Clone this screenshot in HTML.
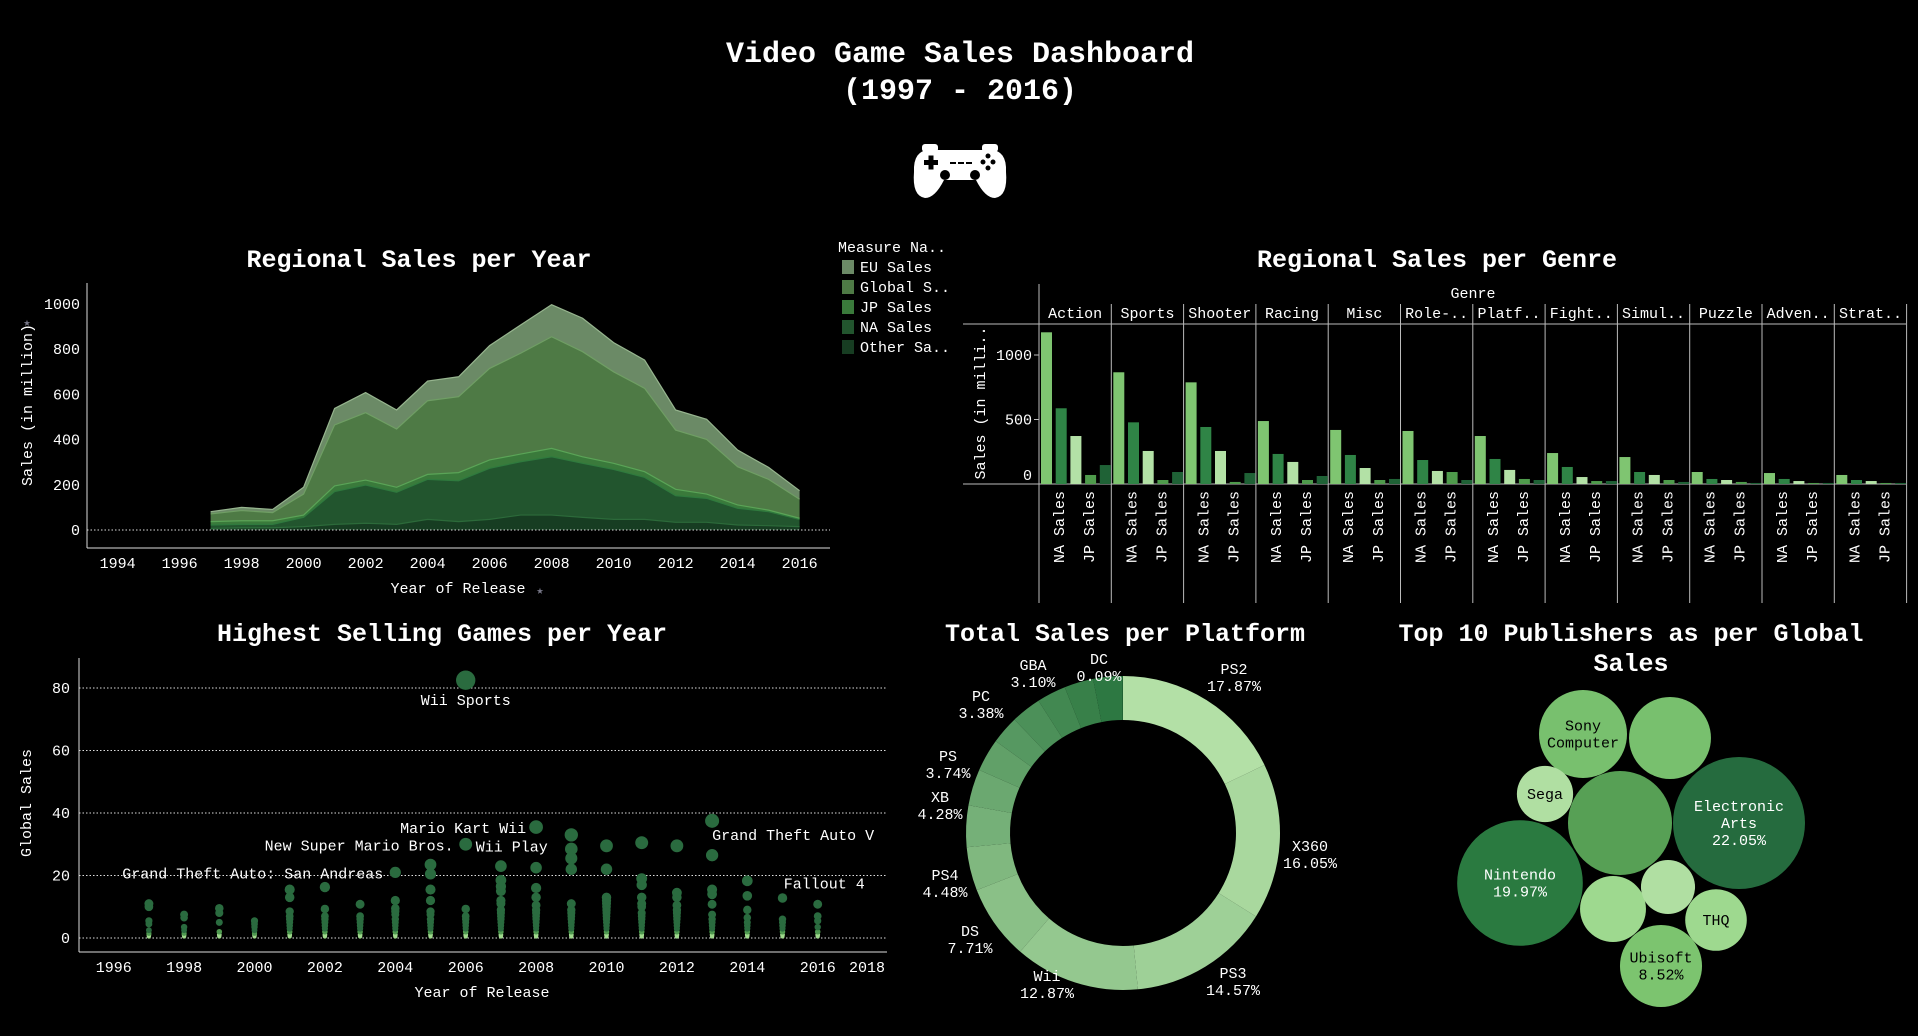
<!DOCTYPE html>
<html><head><meta charset="utf-8"><title>Video Game Sales Dashboard</title>
<style>
html,body{margin:0;padding:0;background:#000;width:1918px;height:1036px;overflow:hidden}
svg{display:block}
text{font-family:"Liberation Mono","DejaVu Sans Mono",monospace;fill:#fff}
.ttl{font-weight:bold}
</style></head><body>
<svg id="root" width="1918" height="1036" viewBox="0 0 1918 1036" xmlns="http://www.w3.org/2000/svg">
<g>
<text class="ttl" x="960" y="62" font-size="30" text-anchor="middle">Video Game Sales Dashboard</text>
<text class="ttl" x="960" y="99" font-size="30" text-anchor="middle">(1997 - 2016)</text>
</g>
<g fill="#fff">
<rect x="922" y="144" width="16" height="8" rx="3"/><rect x="982" y="144" width="16" height="8" rx="3"/>
<path d="M930 150 Q913 150 914 172 Q912 196 925 198 Q935 198 944 180 L976 180 Q985 198 995 198 Q1008 196 1006 172 Q1007 150 990 150 Z"/>
<g fill="#000"><rect x="924" y="160" width="14" height="5"/><rect x="928.5" y="155.5" width="5" height="14"/>
<circle cx="945" cy="175" r="5"/><circle cx="975" cy="175" r="5"/>
<circle cx="988" cy="156" r="2.5"/><circle cx="983" cy="162" r="2.5"/><circle cx="993" cy="162" r="2.5"/><circle cx="988" cy="168" r="2.5"/>
<rect x="950" y="162" width="6" height="2"/><rect x="958" y="162" width="6" height="2"/><rect x="966" y="162" width="6" height="2"/></g>
</g>
<g id="area"></g>
<g id="bars"></g>
<g id="scatter"></g>
<g id="donut"></g>
<g id="bubbles"></g>
</svg>
<script>
// ---------- Area chart data ----------
const areaYears=[1997,1998,1999,2000,2001,2002,2003,2004,2005,2006,2007,2008,2009,2010,2011,2012,2013,2014,2015,2016];
const otherSales=[7,10,10,15,25,30,25,47,37,47,66,66,56,47,47,34,34,22,19,15];
const naSales=[15,15,15,41,145,169,142,177,181,226,236,258,239,221,186,118,106,74,62,32];
const jpSales=[15,16,16,10,25,22,22,22,36,37,34,37,29,27,25,28,19,15,7,5];
const globalSales=[34,45,36,93,270,298,258,326,336,405,446,494,465,405,369,262,242,169,136,84];
const euSales=[10,14,14,30,73,89,84,87,88,101,125,142,148,129,125,89,89,74,53,38];
const areaYTicks=[0,200,400,600,800,1000];
const areaXTicks=[1994,1996,1998,2000,2002,2004,2006,2008,2010,2012,2014,2016];
const legendLabels=["EU Sales","Global S..","JP Sales","NA Sales","Other Sa.."];

// ---------- Bar chart data ----------
const genres=["Action","Sports","Shooter","Racing","Misc","Role-..","Platf..","Fight..","Simul..","Puzzle","Adven..","Strat.."];
const barSeries1=[1176,866,788,488,419,411,372,240,209,93,85,70];
const barSeries2=[587,478,442,233,225,186,194,132,93,39,39,31];
const barSeries3=[372,256,256,171,124,101,109,54,70,31,23,23];
const barSeries4=[70,31,16,31,31,93,39,23,31,16,8,8];
const barSeries5=[147,93,85,62,39,31,31,23,16,8,8,8];
const barYTicks=[0,500,1000];

// ---------- Scatter data ----------
const scatterYears=[1997,1998,1999,2000,2001,2002,2003,2004,2005,2006,2007,2008,2009,2010,2011,2012,2013,2014,2015,2016];
const scatterSales=[
[11,10,5.5,4.5,2.5,1.5,1,0.5],
[7.5,6.5,3.5,2.5,1.5,1,0.5],
[9.5,8,5,2,1,0.5],
[5.5,4.5,3.5,2.5,1.5,1,0.5],
[15.5,13,8.5,7,6,5,4,3,2,1,0.5],
[16.3,9.3,7,6,5,4,3,2,1,0.5],
[10.8,7,6,5,4,3,2,1,0.5],
[21,12,9.5,8.5,7.5,6,5,4,3,2,1,0.5],
[23.5,20.5,15.5,12,8.5,7.5,6,5,4,3,2,1,0.5],
[82.5,30,9.3,7,6,5,4,3,2,1,0.5],
[23,18.5,16.5,15,12,11,9,8,7,6,5,4,3,2,1,0.5],
[35.5,22.5,16,13,10.5,9,8,7,6,5,4,3,2,1,0.5],
[33,28.5,25.5,22,11,9,8,7,6,5,4,3,2,1,0.5],
[29.5,22,13,12,11,10,9,8,7,6,5,4,3,2,1,0.5],
[30.5,19,17,13,11,10,8,7,6,5,4,3,2,1,0.5],
[29.5,14.5,13,10.5,9,8,7,6,5,4,3,2,1,0.5],
[37.5,26.5,15.5,14,10.8,7.5,6,5,4,3,2,1,0.5],
[18.3,13.5,9,6.5,5,4,3,2,1,0.5],
[12.8,6,5,4,3,2,1,0.5],
[10.8,7,5.5,3.5,2,1,0.5]];
const gameNames=["Wii Sports","Mario Kart Wii","New Super Mario Bros.","Wii Play","Grand Theft Auto: San Andreas","Grand Theft Auto V","Fallout 4"];
const gameYears=[2006,2008,2006,2006,2004,2013,2016];
const gameValues=[82.5,35.5,30,30,21,37.5,10.8];
const scatterYTicks=[0,20,40,60,80];
const scatterXTicks=[1996,1998,2000,2002,2004,2006,2008,2010,2012,2014,2016,2018];

// ---------- Donut data ----------
const platforms=["PS2","X360","PS3","Wii","DS","PS4","XB","PS","PC","XOne","GBA","GC","PSP","3DS","DC"];
const platformShare=[17.87,16.05,14.57,12.87,7.71,4.48,4.28,3.74,3.38,2.9,3.10,3.0,3.0,2.96,0.09];
const platformLabelled=[1,1,1,1,1,1,1,1,1,0,1,0,0,0,1];

// ---------- Bubble data ----------
const publishers=["Electronic Arts","Nintendo","Activision","Sony Computer","Take-Two","Ubisoft","Namco Bandai","THQ","Sega","Konami"];
const publisherShare=[22.05,19.97,13.7,9.8,8.5,8.52,5.5,4.8,4.0,3.7];
const publisherShowPct=[1,1,0,0,0,1,0,0,0,0];
const publisherShowName=[1,1,0,1,0,1,0,1,1,0];

const NS="http://www.w3.org/2000/svg";
function mk(parent,tag,attrs,txt){const e=document.createElementNS(NS,tag);for(const k in attrs)e.setAttribute(k,attrs[k]);if(txt!==undefined)e.textContent=txt;parent.appendChild(e);return e;}

// ================= AREA =================
(function(){
const g=document.getElementById('area');
const x0=87,x1=830,yBase=530,yTop=304;
const xs=y=>117.6+(y-1994)*31.0;
const ys=v=>yBase-(v/1000)*(yBase-yTop);
let t=mk(g,'text',{x:419,y:267,'font-size':25,'text-anchor':'middle','class':'ttl'},'Regional Sales per Year');

const layers=[otherSales,naSales,jpSales,globalSales,euSales];
const fills=["#173d22","#22552e","#3a7a3b","#4e7a45","#6b8a66"];
const strokes=["#2c6a3a","#2f7a3e","#5aa457","#6f9e64","#97b58f"];
const names=["other-sales-area","na-sales-area","jp-sales-area","global-sales-area","eu-sales-area"];
let cum=areaYears.map(()=>0);
const polys=[];
layers.forEach((L,i)=>{
 const lower=cum.slice();cum=cum.map((c,j)=>c+L[j]);
 let d='M'+areaYears.map((y,j)=>xs(y)+','+ys(cum[j])).join(' L');
 for(let j=areaYears.length-1;j>=0;j--)d+=' L'+xs(areaYears[j])+','+ys(lower[j]);
 d+='Z';
 polys.push({d,i,top:cum.slice()});
});
polys.slice().reverse().forEach(p=>{
 const e=mk(g,'path',{d:p.d,fill:fills[p.i]});
 
 
});
polys.forEach(p=>{
 const e=mk(g,'polyline',{points:areaYears.map((y,j)=>xs(y)+','+ys(p.top[j])).join(' '),fill:'none',stroke:strokes[p.i],'stroke-width':1.2});
 
 
});
let l=mk(g,'line',{x1:x0,x2:x1,y1:yBase,y2:yBase,stroke:'#ddd','stroke-dasharray':'1.5 2','stroke-width':1});

l=mk(g,'line',{x1:x0,x2:x0,y1:283,y2:548,stroke:'#ddd'});

l=mk(g,'line',{x1:x0,x2:x1,y1:548,y2:548,stroke:'#ddd'});

areaYTicks.forEach(v=>{const e=mk(g,'text',{x:80,y:ys(v)+5,'font-size':15,'text-anchor':'end'},String(v));
 });
areaXTicks.forEach(v=>{const e=mk(g,'text',{x:xs(v),y:568,'font-size':15,'text-anchor':'middle'},String(v));
 });
t=mk(g,'text',{x:0,y:0,'font-size':15,'text-anchor':'middle',transform:'translate(32,405) rotate(-90)'},'Sales (in million)');

t=mk(g,'text',{x:27,y:326,'font-size':12,'text-anchor':'middle'},'★');t.style.fill='#778';

t=mk(g,'text',{x:458,y:593,'font-size':15,'text-anchor':'middle'},'Year of Release');

t=mk(g,'text',{x:540,y:594,'font-size':12,'text-anchor':'middle'},'★');t.style.fill='#778';

const lg=mk(g,'g',{});
t=mk(lg,'text',{x:838,y:252,'font-size':15},'Measure Na..');

const legFills=["#6b8a66","#4e7a45","#3a7a3b","#22552e","#173d22"];
legendLabels.forEach((s,i)=>{
 const y=267+i*20;
 const r=mk(lg,'rect',{x:842,y:y-7,width:12,height:14,fill:legFills[i]});
 
 const e=mk(lg,'text',{x:860,y:y+5,'font-size':15},s);
 
});
})();

// ================= BARS =================
(function(){
const g=document.getElementById('bars');
const left=1039,colW=72.3,base=484,top1000=355;
const ys=v=>base-(v/1000)*(base-top1000);
let t=mk(g,'text',{x:1437,y:267,'font-size':25,'text-anchor':'middle','class':'ttl'},'Regional Sales per Genre');

t=mk(g,'text',{x:1473,y:298,'font-size':15,'text-anchor':'middle'},'Genre');

let l=mk(g,'line',{x1:963,x2:1906,y1:324,y2:324,stroke:'#bbb'});

l=mk(g,'line',{x1:963,x2:1906,y1:484,y2:484,stroke:'#bbb'});

const series=[barSeries1,barSeries2,barSeries3,barSeries4,barSeries5];
const cols=["#7fc571","#2f8446","#b3e1a6","#4f9b4c","#1f6236"];
for(let c=0;c<=genres.length;c++){
 const x=left+c*colW;
 const e=mk(g,'line',{x1:x,x2:x,y1:c===0?284:304,y2:603,stroke:'#bbb'});
 
}
genres.forEach((gn,c)=>{
 const cx=left+c*colW;
 const e=mk(g,'text',{x:cx+colW/2,y:318,'font-size':15,'text-anchor':'middle'},gn);
 
 series.forEach((s,k)=>{
  const r=mk(g,'rect',{x:cx+2+k*14.7,y:ys(s[c]),width:11,height:base-ys(s[c]),fill:cols[k]});
  
  
 });
 const a=mk(g,'text',{x:0,y:0,'font-size':15,transform:`translate(${cx+25},563) rotate(-90)`},'NA Sales');
 
 const b=mk(g,'text',{x:0,y:0,'font-size':15,transform:`translate(${cx+55},563) rotate(-90)`},'JP Sales');
 
});
barYTicks.forEach(v=>{
 const e=mk(g,'text',{x:1032,y:ys(v)+5-(v===0?9:0),'font-size':15,'text-anchor':'end'},String(v));
 
 const tk=mk(g,'line',{x1:1034,x2:1039,y1:ys(v),y2:ys(v),stroke:'#bbb'});
 
});
t=mk(g,'text',{x:0,y:0,'font-size':15,'text-anchor':'middle',transform:'translate(985,403) rotate(-90)'},'Sales (in milli..');

})();

// ================= SCATTER =================
(function(){
const g=document.getElementById('scatter');
const x0=79,x1=887,base=938,y80=688;
const xs=y=>113.7+(y-1996)*35.2;
const ys=v=>base-(v/80)*(base-y80);
let t=mk(g,'text',{x:442,y:641,'font-size':25,'text-anchor':'middle','class':'ttl'},'Highest Selling Games per Year');

scatterYTicks.forEach(v=>{
 const e=mk(g,'line',{x1:x0,x2:x1,y1:ys(v),y2:ys(v),stroke:'#ddd','stroke-dasharray':'1.5 2'});
 
 const tx=mk(g,'text',{x:70,y:ys(v)+5,'font-size':15,'text-anchor':'end'},String(v));
 
});
let l=mk(g,'line',{x1:x0,x2:x0,y1:658,y2:952,stroke:'#ddd'});

l=mk(g,'line',{x1:x0,x2:x1,y1:952,y2:952,stroke:'#ddd'});

scatterXTicks.forEach(v=>{
 const px=Math.min(xs(v),867);
 const e=mk(g,'text',{x:px,y:972,'font-size':15,'text-anchor':'middle'},String(v));
 
});
t=mk(g,'text',{x:482,y:997,'font-size':15,'text-anchor':'middle'},'Year of Release');

t=mk(g,'text',{x:0,y:0,'font-size':15,'text-anchor':'middle',transform:'translate(31,803) rotate(-90)'},'Global Sales');

scatterYears.forEach((yr,i)=>{
 scatterSales[i].slice().reverse().forEach(v=>{
  const r=1.5+Math.sqrt(v)*0.9;
  const c=mk(g,'circle',{cx:xs(yr),cy:ys(v),r:r,fill:v<1.2?'#9fd98c':(v<2.5?'#4f9a50':'#2a6b3f')});
  
  
 });
});
const anchors=["middle","end","end","start","end","start","start"];
const dx=[0,-10,-12,10,-12,0,-34];
const dy=[25,6,6,7,6,19,-16];
gameNames.forEach((n,i)=>{
 const e=mk(g,'text',{x:xs(gameYears[i])+dx[i],y:ys(gameValues[i])+dy[i],'font-size':15,'text-anchor':anchors[i]},n);
 
});
})();

// ================= DONUT =================
(function(){
const g=document.getElementById('donut');
const cx=1123,cy=833,R=157,r=113;
let t=mk(g,'text',{x:1125,y:641,'font-size':25,'text-anchor':'middle','class':'ttl'},'Total Sales per Platform');

// label placement (layout only)
const labelX=[1234,1310,1233,1047,970,945,940,948,981,0,1033,0,0,0,1099];
const labelY=[674,851,978,981,936,880,802,761,701,0,670,0,0,0,664];
const total=platformShare.reduce((a,b)=>a+b,0);
const light=[179,224,166],dark=[35,112,58];
let a0=0;
platformShare.forEach((v,i)=>{
 const a1=a0+v/total*2*Math.PI;
 const f=i/(platformShare.length-1);
 const col=`rgb(${light.map((c,k)=>Math.round(c+(dark[k]-c)*f)).join(',')})`;
 const p=(ang,rad)=>[cx+rad*Math.sin(ang),cy-rad*Math.cos(ang)];
 const [ax,ay]=p(a0,R),[bx,by]=p(a1,R),[cx2,cy2]=p(a1,r),[dx2,dy2]=p(a0,r);
 const large=(a1-a0)>Math.PI?1:0;
 const e=mk(g,'path',{d:`M${ax},${ay} A${R},${R} 0 ${large} 1 ${bx},${by} L${cx2},${cy2} A${r},${r} 0 ${large} 0 ${dx2},${dy2}Z`,fill:col});
 
 
 if(platformLabelled[i]){
  const lx=labelX[i],ly=labelY[i];
  const tx=mk(g,'text',{x:lx,y:ly,'font-size':15,'text-anchor':'middle'});
  
  mk(tx,'tspan',{x:lx},platforms[i]);
  mk(tx,'tspan',{x:lx,dy:17},v.toFixed(2)+'%');
 }
 a0=a1;
});
})();

// ================= BUBBLES =================
(function(){
const g=document.getElementById('bubbles');
let t=mk(g,'text',{x:1631,y:641,'font-size':25,'text-anchor':'middle','class':'ttl'},'Top 10 Publishers as per Global');

t=mk(g,'text',{x:1631,y:671,'font-size':25,'text-anchor':'middle','class':'ttl'},'Sales');

// packed layout positions (layout only, not data)
const layoutX=[1739,1520,1620,1583,1670,1661,1613,1716,1545,1668];
const layoutY=[823,883,823,734,738,966,909,920,794,887];
const cols=["#256b3e","#2a7a40","#57a055","#78c06e","#78c06e","#7cc46f","#9ed98f","#9ed98f","#b0dfa2","#b0dfa2"];
const k=66/Math.sqrt(22.05);
publishers.forEach((p,i)=>{
 const rad=k*Math.sqrt(publisherShare[i]);
 const c=mk(g,'circle',{cx:layoutX[i],cy:layoutY[i],r:rad,fill:cols[i]});
 
 
 if(publisherShowName[i]){
  const dark=i<2;
  const lines=p.split(' ');
  if(publisherShowPct[i])lines.push(publisherShare[i].toFixed(2)+'%');
  const tx=mk(g,'text',{x:layoutX[i],y:layoutY[i]-(lines.length-1)*8.5+5,'font-size':15,'text-anchor':'middle'});
  tx.style.fill=dark?'#fff':'#000';
  
  lines.forEach((s,j)=>{const ts=mk(tx,'tspan',{x:layoutX[i],dy:j?17:0},s);ts.style.fill=dark?'#fff':'#000';});
 }
});
})();
</script>
</body></html>
